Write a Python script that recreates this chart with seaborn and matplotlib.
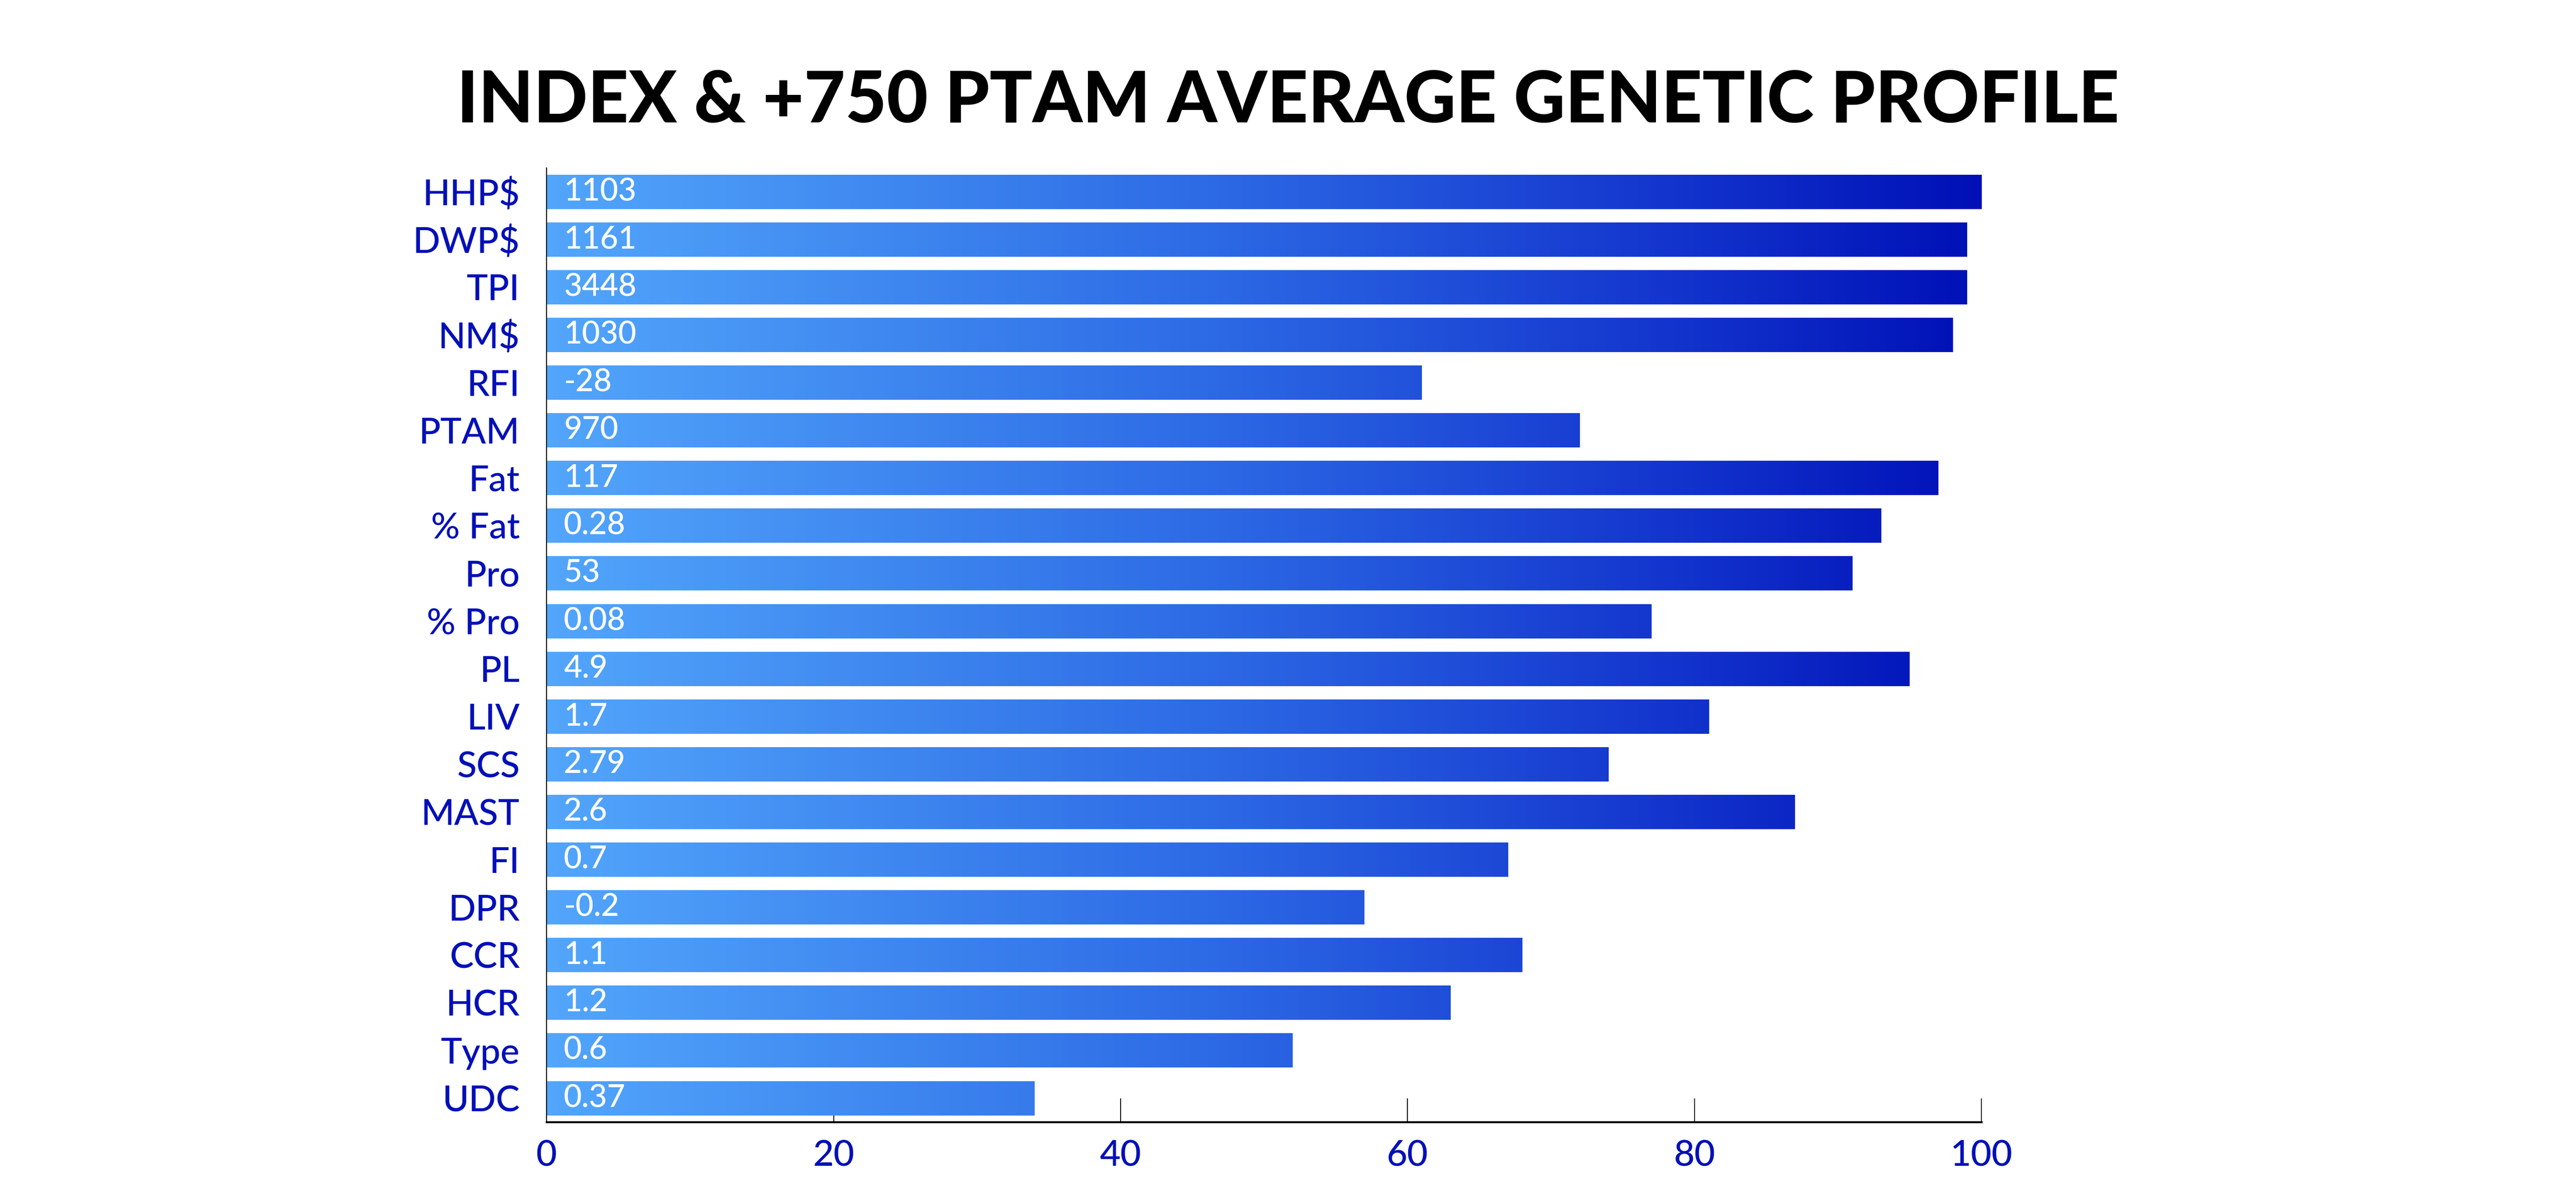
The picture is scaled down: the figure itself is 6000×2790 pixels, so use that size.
import numpy as np
import pandas as pd
import matplotlib
matplotlib.use("Agg")
import matplotlib.pyplot as plt
from matplotlib.colors import LinearSegmentedColormap
import seaborn as sns

# ---- data ----
categories = ["HHP$", "DWP$", "TPI", "NM$", "RFI", "PTAM", "Fat", "% Fat", "Pro", "% Pro",
              "PL", "LIV", "SCS", "MAST", "FI", "DPR", "CCR", "HCR", "Type", "UDC"]
percentiles = [100, 99, 99, 98, 61, 72, 97, 93, 91, 77,
               95, 81, 74, 87, 67, 57, 68, 63, 52, 34]
value_labels = ["1103", "1161", "3448", "1030", "-28", "970", "117", "0.28", "53", "0.08",
                "4.9", "1.7", "2.79", "2.6", "0.7", "-0.2", "1.1", "1.2", "0.6", "0.37"]
x_ticks = [0, 20, 40, 60, 80, 100]
title = "INDEX & +750 PTAM AVERAGE GENETIC PROFILE"

df = pd.DataFrame({"trait": categories, "pct": percentiles, "label": value_labels})

sns.set_theme(style="white")
plt.rcParams["font.family"] = ["Lato", "DejaVu Sans"]

LABEL_BLUE = "#0010B8"

fig = plt.figure(figsize=(20, 9.3), dpi=300)
ax = fig.add_axes([0.2122, 0.0634, 0.5570, 0.7964])

sns.barplot(data=df, x="pct", y="trait", orient="h", ax=ax, width=0.72,
            color="#3a7be8", edgecolor="none", linewidth=0)

ax.set_xlim(0, 100)

# gradient fill mapped to absolute x position
cmap = LinearSegmentedColormap.from_list(
    "grad", [(0.0, "#52A6FB"), (0.45, "#2E6CE6"), (0.8, "#1232CC"), (1.0, "#0010B6")])
grad = np.linspace(0, 1, 512).reshape(1, -1)
ylim = ax.get_ylim()
for patch in ax.patches:
    patch.set_facecolor("none")
    im = ax.imshow(grad, cmap=cmap, aspect="auto", extent=(0, 100, ylim[0], ylim[1]),
                   origin="lower", zorder=1, interpolation="bilinear")
    im.set_clip_path(patch)
ax.set_ylim(ylim)
ax.set_xlim(0, 100)

# value labels inside bars
for i, lab in enumerate(value_labels):
    ax.annotate(lab, xy=(0, i), xytext=(9.6, 0), textcoords="offset points",
                ha="left", va="center", color="white", fontsize=17.5,
                fontweight="medium", zorder=3)

ax.set_xlabel("")
ax.set_ylabel("")
ax.set_xticks(x_ticks)
ax.set_xticklabels([str(t) for t in x_ticks])

for s in ["top", "right"]:
    ax.spines[s].set_visible(False)
ax.spines["left"].set_color("black")
ax.spines["left"].set_linewidth(0.5)
ax.spines["bottom"].set_color("black")
ax.spines["bottom"].set_linewidth(1.1)

ax.tick_params(axis="x", direction="in", length=13.2, width=0.5, color="black",
               labelsize=20, labelcolor=LABEL_BLUE, pad=10, bottom=True)
ax.tick_params(axis="y", length=0, labelsize=20, labelcolor=LABEL_BLUE, pad=15)
for lbl in ax.get_xticklabels() + ax.get_yticklabels():
    lbl.set_fontweight("medium")
ax.grid(False)

fig.text(0.5, 1 - 285 / 2790, title, ha="center", va="baseline",
         fontsize=39.8, fontweight="black", color="black")

fig.savefig("out.png", dpi=300, facecolor="white")
